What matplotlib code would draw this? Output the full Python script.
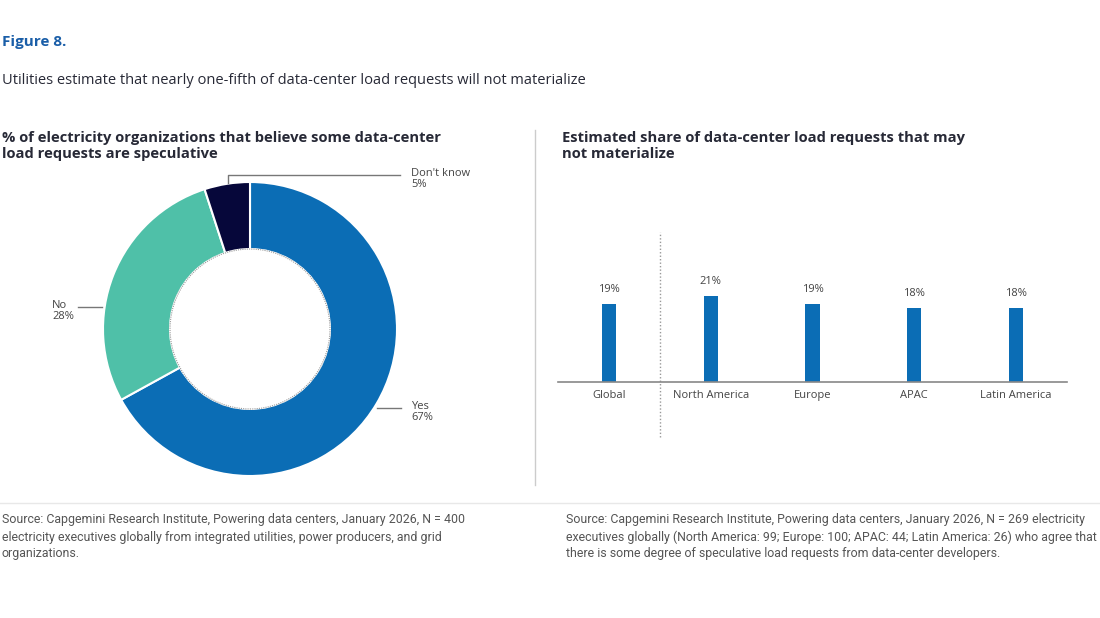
import matplotlib
matplotlib.use("Agg")
import matplotlib.pyplot as plt
from matplotlib.patches import Circle
from matplotlib import font_manager

# ---------------- data ----------------
pie_labels = ["Yes", "No", "Don't know"]
pie_values = [67, 28, 5]
pie_colors = ["#0B6DB5", "#4FC0A8", "#06073A"]

bar_categories = ["Global", "North America", "Europe", "APAC", "Latin America"]
bar_values = [19, 21, 19, 18, 18]
bar_color = "#0B6DB5"

fig_label = "Figure 8."
fig_title = "Utilities estimate that nearly one-fifth of data-center load requests will not materialize"
left_sub = "% of electricity organizations that believe some data-center\nload requests are speculative"
right_sub = "Estimated share of data-center load requests that may\nnot materialize"
left_src = ["Source: Capgemini Research Institute, Powering data centers, January 2026, N = 400",
            "electricity executives globally from integrated utilities, power producers, and grid",
            "organizations."]
right_src = ["Source: Capgemini Research Institute, Powering data centers, January 2026, N = 269 electricity",
             "executives globally (North America: 99; Europe: 100; APAC: 44; Latin America: 26) who agree that",
             "there is some degree of speculative load requests from data-center developers."]

# ---------------- style ----------------
FONT = "Open Sans"
names = {f.name for f in font_manager.fontManager.ttflist}
NARROW = "Liberation Sans Narrow" if "Liberation Sans Narrow" in names else "Roboto"
plt.rcParams["font.family"] = [FONT, "DejaVu Sans"]
TXT = "#272936"
GRAY = "#555555"

W, H = 1100, 618
fig = plt.figure(figsize=(W / 100, H / 100), dpi=100)
fig.patch.set_facecolor("white")


def px(x, y):
    return x / W, 1 - y / H


# titles
fig.text(*px(2, 42), fig_label, color="#1A5EA8", fontsize=11, fontweight="bold", va="center", ha="left")
fig.text(*px(2, 81), fig_title, color=TXT, fontsize=10.5, va="center", ha="left")
fig.text(*px(2, 146), left_sub, color=TXT, fontsize=10.6, fontweight="bold", va="center", ha="left",
         linespacing=1.15)
fig.text(*px(562, 146), right_sub, color=TXT, fontsize=10.6, fontweight="bold", va="center", ha="left",
         linespacing=1.15)

# separators
fig.add_artist(plt.Line2D([535 / W, 535 / W], [1 - 130 / H, 1 - 485 / H], color="#cccccc", lw=1))
fig.add_artist(plt.Line2D([0, 1], [1 - 503 / H, 1 - 503 / H], color="#e8e8e8", lw=1))

# sources
for i, (l, r) in enumerate(zip(left_src, right_src)):
    y = 520 + i * 17
    fig.text(*px(2, y), l, color=GRAY, fontsize=8.9, va="center", ha="left", family=[NARROW, "DejaVu Sans"])
    fig.text(*px(566, y), r, color=GRAY, fontsize=8.9, va="center", ha="left", family=[NARROW, "DejaVu Sans"])

# ---------------- donut ----------------
cx, cy, R = 250, 329, 147
axp = fig.add_axes([(cx - R) / W, (H - cy - R) / H, 2 * R / W, 2 * R / H])
axp.pie(pie_values, colors=pie_colors, startangle=90, counterclock=False, radius=1,
        wedgeprops=dict(width=0.456, edgecolor="white", linewidth=1.5))
axp.add_patch(Circle((0, 0), 0.544, fill=False, ls=(0, (1, 1)), ec="#9a9a9a", lw=0.8))
axp.set_xlim(-1, 1)
axp.set_ylim(-1, 1)
axp.set_aspect("equal")
axp.axis("off")

lc = "#777777"
lab_kw = dict(fontsize=8, color="#444444", va="top", ha="left", linespacing=1.0, clip_on=False)
# Don't know
axp.plot([-0.15, -0.15, 1.02], [0.993, 1.048, 1.048], color=lc, lw=1, clip_on=False)
axp.text(1.095, 1.092, f"{pie_labels[2]}\n{pie_values[2]}%", **lab_kw)
# No
axp.plot([-1.17, -1.007], [0.15, 0.15], color=lc, lw=1, clip_on=False)
axp.text(-1.347, 0.194, f"{pie_labels[1]}\n{pie_values[1]}%", **lab_kw)
# Yes
axp.plot([0.864, 1.027], [-0.537, -0.537], color=lc, lw=1, clip_on=False)
axp.text(1.095, -0.493, f"{pie_labels[0]}\n{pie_values[0]}%", **lab_kw)

# ---------------- bars ----------------
x0, x1, yb, yt = 558, 1067, 382, 232
axb = fig.add_axes([x0 / W, (H - yb) / H, (x1 - x0) / W, (yb - yt) / H])
xs = list(range(len(bar_categories)))
axb.bar(xs, bar_values, width=0.14, color=bar_color)
axb.set_xlim(-0.5, 4.5)
axb.set_ylim(0, 36.6)
for s in ["top", "right", "left"]:
    axb.spines[s].set_visible(False)
axb.spines["bottom"].set_color("#888888")
axb.spines["bottom"].set_linewidth(1.2)
axb.set_yticks([])
axb.set_xticks(xs)
axb.set_xticklabels(bar_categories, fontsize=8, color="#444444")
axb.tick_params(axis="x", length=0, pad=6)
for x, v in zip(xs, bar_values):
    axb.text(x, v + 2.2, f"{v}%", ha="center", va="bottom", fontsize=8, color="#444444")
axb.plot([0.5, 0.5], [-13.4, 36.6], color="#999999", lw=1, ls=(0, (1, 1.5)), clip_on=False)

fig.savefig("out.png", dpi=100, facecolor="white")
